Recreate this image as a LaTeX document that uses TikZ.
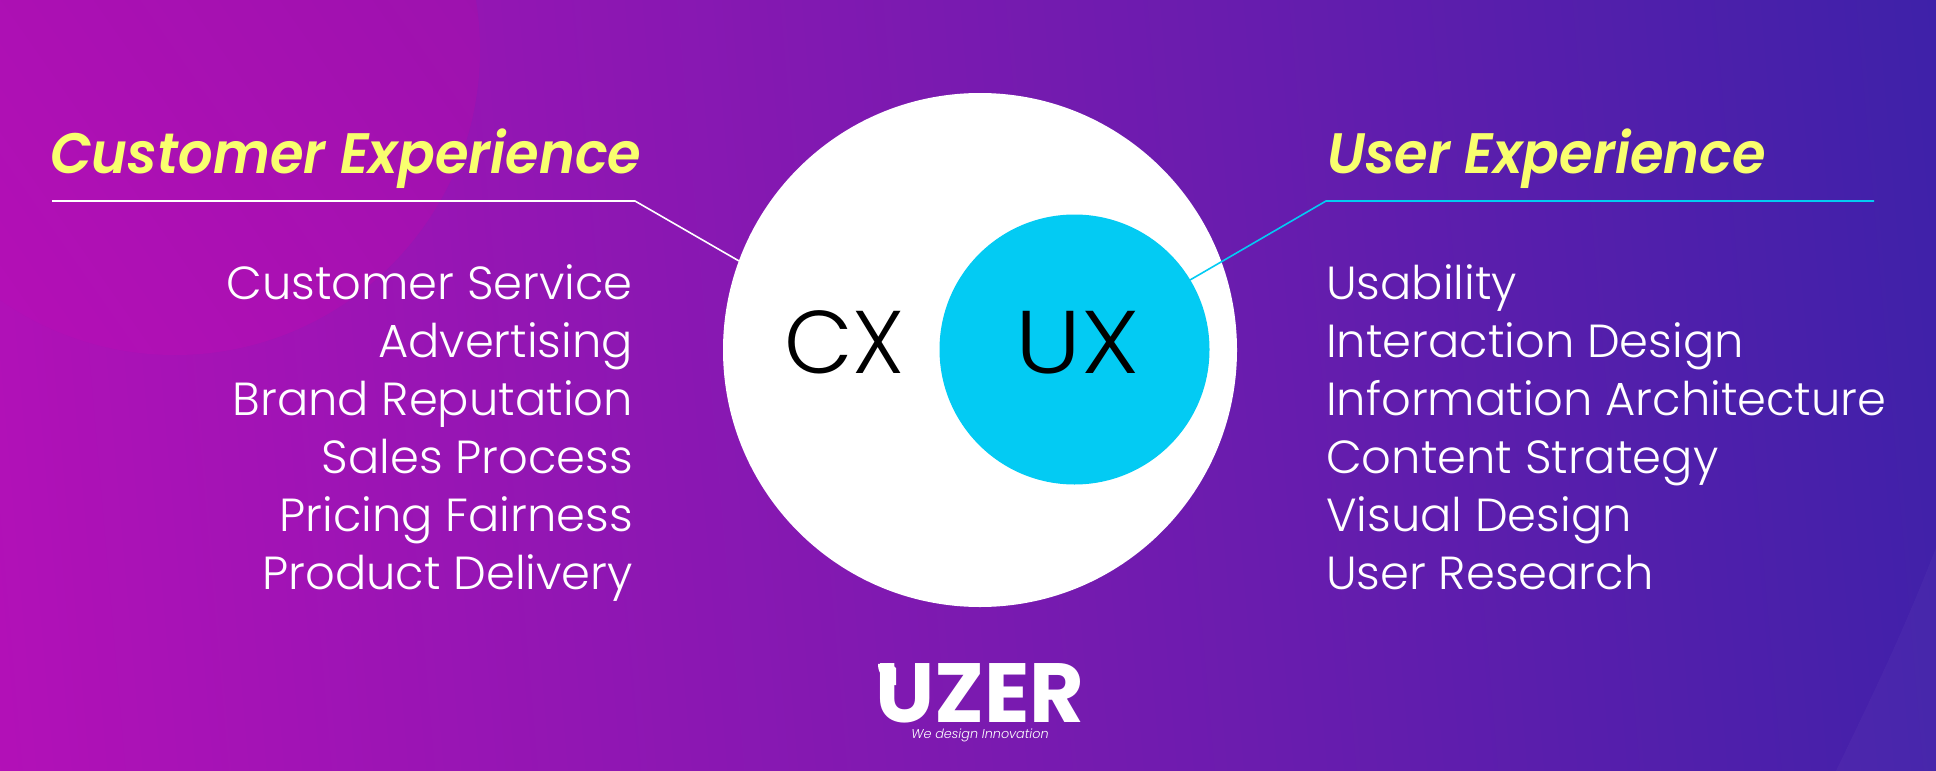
\documentclass[tikz,border=0pt]{standalone}
\usepackage{fontspec}
\setmainfont{Poppins Light}
\newfontfamily\headfont[FakeStretch=0.953]{Poppins SemiBold Italic}
\newfontfamily\tagfont{Poppins Light Italic}
\newfontfamily\logofont{Poppins Bold}
\newfontfamily\uxfont[FakeStretch=1.12]{Poppins Light}
\usetikzlibrary{calc}
\definecolor{bgA}{HTML}{BA0FB8}
\definecolor{bgB}{HTML}{7A1AB0}
\definecolor{bgC}{HTML}{3622A8}
\definecolor{ovA}{HTML}{B40FB6}
\definecolor{ovB}{HTML}{9C12AE}
\definecolor{uxc}{HTML}{03CBF3}
\definecolor{yel}{HTML}{F9FF6E}
\begin{document}
\begin{tikzpicture}[x=1pt,y=-1pt]
\tikzset{head/.style={font=\fontsize{57}{57}\headfont,text=yel,inner sep=0},
 item/.style={font=\fontsize{46.4}{46.4}\selectfont,text=white,inner sep=0},
 big/.style={font=\fontsize{89}{89}\selectfont,text=black,inner sep=0}}
\useasboundingbox (0,0) rectangle (1936,771);
\shade[left color=bgA,right color=bgC,middle color=bgB,shading angle=95] (-200,-300) rectangle (2136,1071);
\begin{scope}
\clip (0,0) rectangle (1936,771);
\shade[left color=ovA,right color=ovB,shading angle=125] (175,50) circle[radius=305];
\fill[white,opacity=0.03] (1936,548) .. controls (1900,640) and (1870,700) .. (1836,771) -- (1936,771) -- cycle;
\end{scope}
\node[circle,fill=white,minimum size=514,inner sep=0] (cx) at (980,350) {};
\node[circle,fill=uxc,minimum size=270,inner sep=0] (ux) at (1074.5,349.5) {};
\node[big,anchor=base] (cxt) at (844.5,373) {CX};
\node[big,anchor=base,font=\fontsize{89}{89}\uxfont] (uxt) at (1077.5,373) {UX};
\node[head,anchor=base west] (h1) at (50,173) {Customer Experience};
\node[head,anchor=base west] (h2) at (1327,173) {User Experience};
\coordinate (a1) at (52,201);\coordinate (a2) at (635,201);\coordinate (a3) at (739,261);
\coordinate (b1) at (1874,201);\coordinate (b2) at (1326,201);\coordinate (b3) at (1190,280);
\draw[white,line width=1.6] (a1)--(a2)--(a3);
\draw[uxc,line width=1.6] (b1)--(b2)--(b3);
\foreach \t/\y/\n in {Customer Service/299/l1,Advertising/357/l2,Brand Reputation/415/l3,Sales Process/473/l4,Pricing Fairness/531/l5,Product Delivery/589/l6}
 \node[item,anchor=base east] (\n) at (633,\y) {\t};
\foreach \t/\y/\n in {Usability/299/r1,Interaction Design/357/r2,Information Architecture/415/r3,Content Strategy/473/r4,Visual Design/531/r5,User Research/589/r6}
 \node[item,anchor=base west] (\n) at (1326,\y) {\t};
\node[font=\fontsize{84}{84}\logofont,text=white,inner sep=0,anchor=base] (logo) at (980,722) {UZER};
\fill[white] (878,664) -- (890,663) -- (896,668) -- (896,685) -- (885,685) -- (885,680) .. controls (885,675) and (878,676) .. cycle;
\node[font=\fontsize{12.8}{12.8}\tagfont,text=white,inner sep=0,anchor=base] (tag) at (980,738) {We design Innovation};
\end{tikzpicture}
\end{document}
